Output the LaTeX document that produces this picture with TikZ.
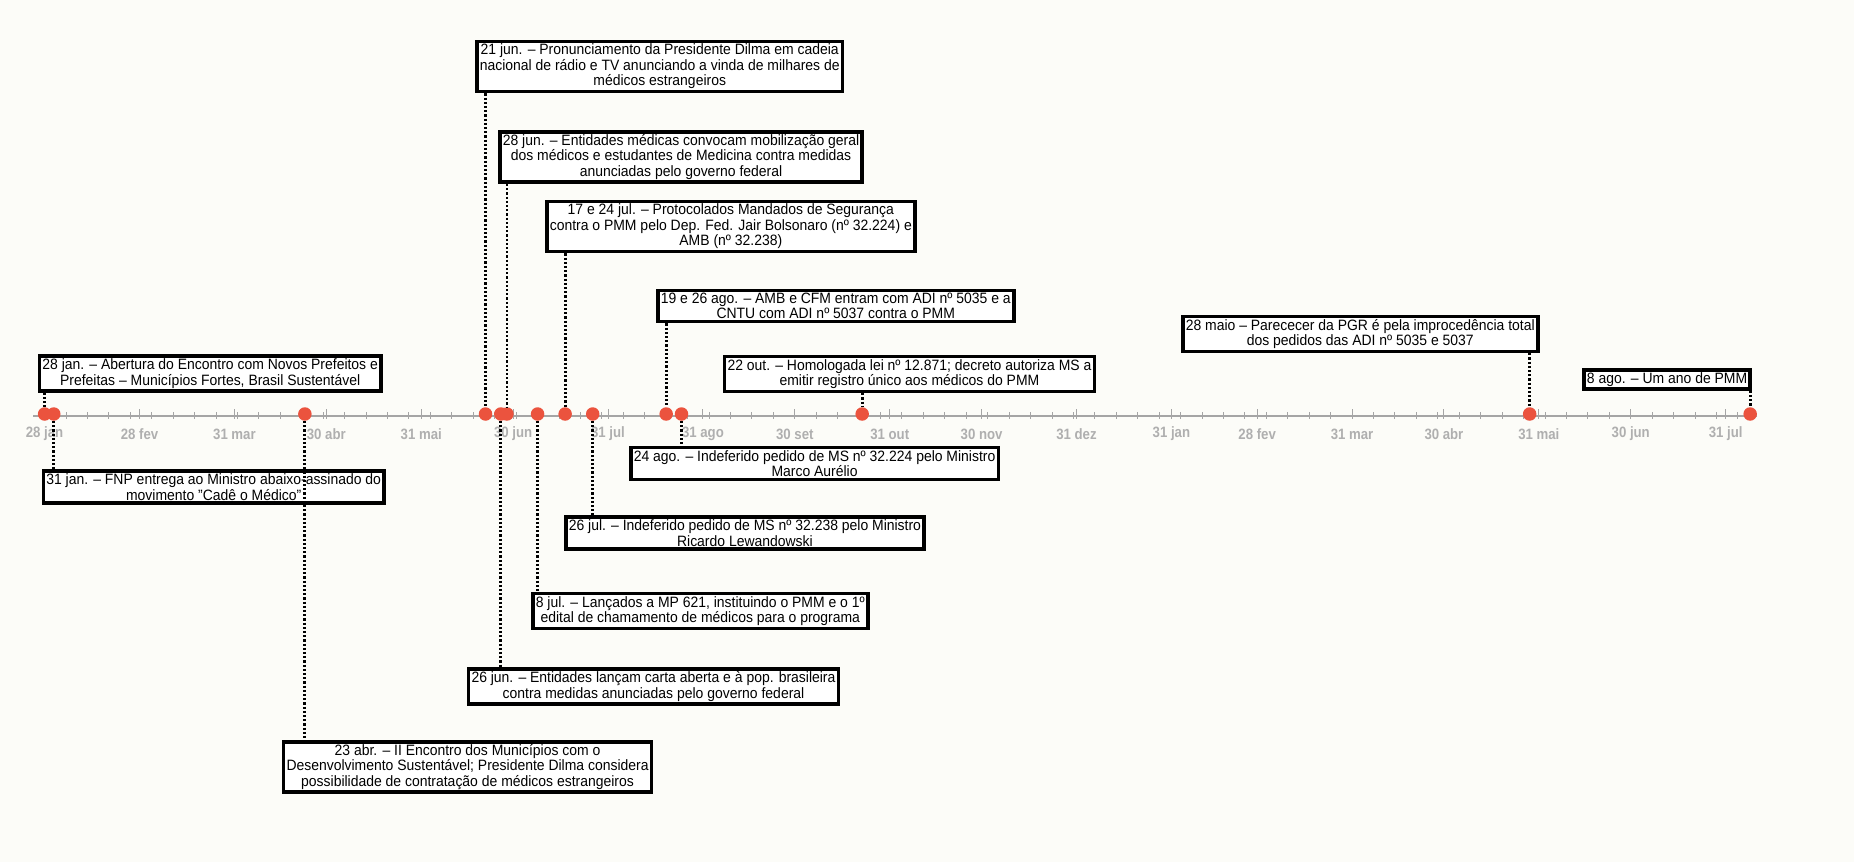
\documentclass[tikz,border=0pt]{standalone}
\usepackage{fontspec}
\setmainfont{Liberation Sans}[FakeStretch=0.93]
\newfontfamily\lblfont{Liberation Sans}[FakeStretch=0.88]
\usetikzlibrary{calc}
\definecolor{evtred}{RGB}{235,83,62}
\definecolor{axisgray}{RGB}{165,165,165}
\definecolor{labelgray}{RGB}{175,175,175}
\definecolor{paper}{RGB}{252,252,248}
\newcommand{\dayx}[1]{44.6+3.062*(#1)}
\tikzset{
  evtbox/.style={draw=black, line width=3.6pt, fill=white, align=center, inner xsep=3pt, inner ysep=2.6pt, font=\fontsize{15}{15.5}\selectfont},
  evtdot/.style={circle, fill=evtred, inner sep=0pt, minimum size=13.5pt},
  leader/.style={line width=2.8pt, dash pattern=on 2.2pt off 2pt},
  monthlbl/.style={text=labelgray, font=\lblfont\bfseries\fontsize{15}{16}\selectfont}
}
\begin{document}
\begin{tikzpicture}[x=1pt,y=-1pt]
    \fill[paper] (0,0) rectangle (1854,862);
    \useasboundingbox (0,0) rectangle (1854,862);

    \draw[axisgray, line width=1.5pt] (33,416) -- (1757,416);
    \foreach \d in {0,7,...,553}
        \draw[axisgray, line width=1pt] ({\dayx{\d}},412) -- ({\dayx{\d}},419);
    \foreach \d/\m in {0/28 jan,31/28 fev,62/31 mar,92/30 abr,123/31 mai,153/30 jun,184/31 jul,215/31 ago,245/30 set,276/31 out,306/30 nov,337/31 dez,368/31 jan,396/28 fev,427/31 mar,457/30 abr,488/31 mai,518/30 jun,549/31 jul}{
        \draw[axisgray, line width=1pt] ({\dayx{\d}},409) -- ({\dayx{\d}},419);
        \node[monthlbl] (m\d) at ({\dayx{\d}},434) {\m};
    }

    \node[evtdot] (p28jan) at ({\dayx{0}},414) {};
    \node[evtdot] (p31jan) at ({\dayx{3}},414) {};
    \node[evtdot] (p23abr) at ({\dayx{85}},414) {};
    \node[evtdot] (p21jun) at ({\dayx{144}},414) {};
    \node[evtdot] (p26jun) at ({\dayx{149}},414) {};
    \node[evtdot] (p28jun) at ({\dayx{151}},414) {};
    \node[evtdot] (p08jul) at ({\dayx{161}},414) {};
    \node[evtdot] (p17jul) at ({\dayx{170}},414) {};
    \node[evtdot] (p26jul) at ({\dayx{179}},414) {};
    \node[evtdot] (p19ago) at ({\dayx{203}},414) {};
    \node[evtdot] (p24ago) at ({\dayx{208}},414) {};
    \node[evtdot] (p22out) at ({\dayx{267}},414) {};
    \node[evtdot] (p28mai) at ({\dayx{485}},414) {};
    \node[evtdot] (p08ago) at ({\dayx{557}},414) {};

    \node[evtbox, anchor=west] (b28jan) at (37.6,373.5) {28 jan. – Abertura do Encontro com Novos Prefeitos e\\Prefeitas – Municípios Fortes, Brasil Sustentável};
    \node[evtbox, anchor=west] (b31jan) at (41.5,487) {31 jan. – FNP entrega ao Ministro abaixo-assinado do\\movimento "Cadê o Médico"};
    \node[evtbox, anchor=west] (b23abr) at (281.7,767) {23 abr. – II Encontro dos Municípios com o\\Desenvolvimento Sustentável; Presidente Dilma considera\\possibilidade de contratação de médicos estrangeiros};
    \node[evtbox, anchor=west] (b21jun) at (475,66.5) {21 jun. – Pronunciamento da Presidente Dilma em cadeia\\nacional de rádio e TV anunciando a vinda de milhares de\\médicos estrangeiros};
    \node[evtbox, anchor=west] (b26jun) at (466.7,686.5) {26 jun. – Entidades lançam carta aberta e à pop. brasileira\\contra medidas anunciadas pelo governo federal};
    \node[evtbox, anchor=west] (b28jun) at (498,157) {28 jun. – Entidades médicas convocam mobilização geral\\dos médicos e estudantes de Medicina contra medidas\\anunciadas pelo governo federal};
    \node[evtbox, anchor=west] (b08jul) at (531,611) {8 jul. – Lançados a MP 621, instituindo o PMM e o 1º\\edital de chamamento de médicos para o programa};
    \node[evtbox, anchor=west] (b17jul) at (545,226.5) {17 e 24 jul. – Protocolados Mandados de Segurança\\contra o PMM pelo Dep. Fed. Jair Bolsonaro (nº 32.224) e\\AMB (nº 32.238)};
    \node[evtbox, anchor=west] (b26jul) at (564,533) {26 jul. – Indeferido pedido de MS nº 32.238 pelo Ministro\\Ricardo Lewandowski};
    \node[evtbox, anchor=west] (b19ago) at (656,306) {19 e 26 ago. – AMB e CFM entram com ADI nº 5035 e a\\CNTU com ADI nº 5037 contra o PMM};
    \node[evtbox, anchor=west] (b24ago) at (629,463.5) {24 ago. – Indeferido pedido de MS nº 32.224 pelo Ministro\\Marco Aurélio};
    \node[evtbox, anchor=west] (b22out) at (722.7,374) {22 out. – Homologada lei nº 12.871; decreto autoriza MS a\\emitir registro único aos médicos do PMM};
    \node[evtbox, anchor=west] (b28mai) at (1181,334) {28 maio – Parececer da PGR é pela improcedência total\\dos pedidos das ADI nº 5035 e 5037};
    \node[evtbox, anchor=east] (b08ago) at (1752,379.5) {8 ago. – Um ano de PMM};

    \draw[leader] (b28jan.south -| p28jan) -- (p28jan);
    \draw[leader] (b21jun.south -| p21jun) -- (p21jun);
    \draw[leader] (b28jun.south -| p28jun) -- (p28jun);
    \draw[leader] (b17jul.south -| p17jul) -- (p17jul);
    \draw[leader] (b19ago.south -| p19ago) -- (p19ago);
    \draw[leader] (b22out.south -| p22out) -- (p22out);
    \draw[leader] (b28mai.south -| p28mai) -- (p28mai);
    \draw[leader] (b08ago.south -| p08ago) -- (p08ago);
    \draw[leader] (p31jan) -- (b31jan.north -| p31jan);
    \draw[leader] (p23abr) -- (b23abr.north -| p23abr);
    \draw[leader] (p26jun) -- (b26jun.north -| p26jun);
    \draw[leader] (p08jul) -- (b08jul.north -| p08jul);
    \draw[leader] (p26jul) -- (b26jul.north -| p26jul);
    \draw[leader] (p24ago) -- (b24ago.north -| p24ago);
\end{tikzpicture}
\end{document}
